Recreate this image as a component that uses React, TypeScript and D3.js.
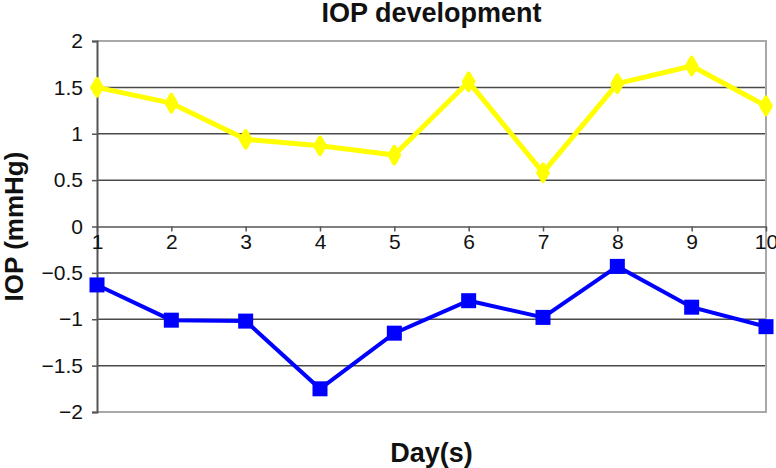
import React, { useEffect, useRef } from "react";
import * as d3 from "d3";

const days = [1, 2, 3, 4, 5, 6, 7, 8, 9, 10];
const upperSeries = [1.5, 1.33, 0.94, 0.87, 0.77, 1.56, 0.58, 1.54, 1.73, 1.3];
const lowerSeries = [-0.63, -1.01, -1.02, -1.75, -1.15, -0.8, -0.98, -0.43, -0.87, -1.08];
const yTicks = [2, 1.5, 1, 0.5, 0, -0.5, -1, -1.5, -2];
const yTickLabels = ["2", "1.5", "1", "0.5", "0", "\u22120.5", "\u22121", "\u22121.5", "\u22122"];

function App() {
  const svgRef = useRef<SVGSVGElement>(null);

  useEffect(() => {
    if (!svgRef.current) return;
    const width = 776;
    const height = 468;
    const m = { left: 97, right: 10, top: 41, bottom: 56 };
    const font = "Liberation Sans, Arial, sans-serif";

    const svg = d3.select(svgRef.current);
    svg.selectAll("*").remove();

    const x = d3.scalePoint<number>().domain(days).range([m.left, width - m.right]);
    const y = d3.scaleLinear().domain([-2, 2]).range([height - m.bottom, m.top]);

    svg.append("rect").attr("width", width).attr("height", height).attr("fill", "#fff");

    // gridlines
    svg
      .append("g")
      .selectAll("line")
      .data(yTicks.filter((t) => t !== 2 && t !== -2 && t !== 0))
      .join("line")
      .attr("x1", m.left)
      .attr("x2", width - m.right)
      .attr("y1", (d) => y(d))
      .attr("y2", (d) => y(d))
      .attr("stroke", "#4a4a4a")
      .attr("stroke-width", 1.5);

    // frame (top, right, bottom)
    svg
      .append("path")
      .attr("d", `M${m.left},${y(2)}H${width - m.right}V${y(-2)}H${m.left}`)
      .attr("fill", "none")
      .attr("stroke", "#a8a8a8")
      .attr("stroke-width", 2);

    // y axis
    const yAxis = svg
      .append("g")
      .attr("transform", `translate(${m.left},0)`)
      .call(
        d3
          .axisLeft(y)
          .tickValues(yTicks)
          .tickSize(5)
          .tickPadding(9)
          .tickFormat((d, i) => yTickLabels[i])
      );
    yAxis.select(".domain").attr("stroke", "#555").attr("stroke-width", 2);
    yAxis.selectAll(".tick line").attr("stroke", "#555").attr("stroke-width", 1.5);
    yAxis
      .selectAll(".tick text")
      .attr("font-family", font)
      .attr("font-size", 21)
      .attr("fill", "#111");

    // x axis at zero
    const xAxis = svg
      .append("g")
      .attr("transform", `translate(0,${y(0)})`)
      .call(d3.axisBottom(x).tickSize(5).tickPadding(3).tickSizeOuter(0));
    xAxis.select(".domain").attr("stroke", "#555").attr("stroke-width", 1.5);
    xAxis.selectAll(".tick line").attr("stroke", "#555").attr("stroke-width", 1.5);
    xAxis
      .selectAll(".tick text")
      .attr("font-family", font)
      .attr("font-size", 21)
      .attr("fill", "#111");

    const line = d3
      .line<number>()
      .x((_, i) => x(days[i]) as number)
      .y((d) => y(d));

    // upper (yellow) series
    svg
      .append("path")
      .datum(upperSeries)
      .attr("d", line)
      .attr("fill", "none")
      .attr("stroke", "#ffff00")
      .attr("stroke-width", 5)
      .attr("stroke-linejoin", "round");
    svg
      .append("g")
      .selectAll("path")
      .data(upperSeries)
      .join("path")
      .attr("d", d3.symbol().type(d3.symbolDiamond).size(80)())
      .attr("transform", (d, i) => `translate(${x(days[i])},${y(d)})`)
      .attr("fill", "#ffff00")
      .attr("stroke", "#ffff00")
      .attr("stroke-width", 4)
      .attr("stroke-linejoin", "round");

    // lower (blue) series
    svg
      .append("path")
      .datum(lowerSeries)
      .attr("d", line)
      .attr("fill", "none")
      .attr("stroke", "#0000ff")
      .attr("stroke-width", 4);
    svg
      .append("g")
      .selectAll("rect")
      .data(lowerSeries)
      .join("rect")
      .attr("x", (_, i) => (x(days[i]) as number) - 7.5)
      .attr("y", (d) => y(d) - 7.5)
      .attr("width", 15)
      .attr("height", 15)
      .attr("fill", "#0000ff");

    const cx = (m.left + width - m.right) / 2;

    svg
      .append("text")
      .attr("x", cx)
      .attr("y", 22)
      .attr("text-anchor", "middle")
      .attr("font-family", font)
      .attr("font-weight", "bold")
      .attr("font-size", 27)
      .attr("fill", "#111")
      .text("IOP development");

    svg
      .append("text")
      .attr("x", cx)
      .attr("y", 462)
      .attr("text-anchor", "middle")
      .attr("font-family", font)
      .attr("font-weight", "bold")
      .attr("font-size", 27)
      .attr("fill", "#111")
      .text("Day(s)");

    svg
      .append("text")
      .attr("transform", `translate(23,${y(0)}) rotate(-90)`)
      .attr("text-anchor", "middle")
      .attr("font-family", font)
      .attr("font-weight", "bold")
      .attr("font-size", 26)
      .attr("fill", "#111")
      .text("IOP (mmHg)");
  }, []);

  return (
    <svg
      ref={svgRef}
      width={776}
      height={468}
      style={{ position: "absolute", left: 0, top: 0, display: "block" }}
    />
  );
}

export default App;
